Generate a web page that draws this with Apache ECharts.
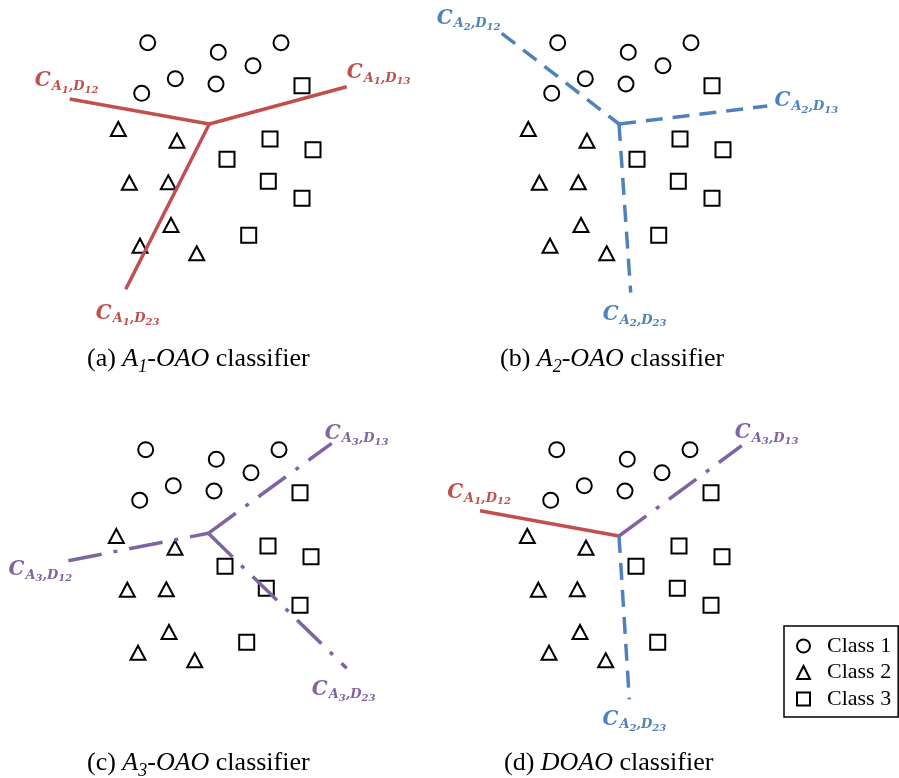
<!DOCTYPE html>
<html>
<head>
<meta charset="utf-8">
<script src="https://cdn.jsdelivr.net/npm/echarts/dist/echarts.min.js"></script>
<style>
  html, body { margin: 0; padding: 0; background: #fff; }
  #chart { width: 899px; height: 778px; }
</style>
</head>
<body>
<div id="chart"></div>
<script>
// ---- Sample points (the same set is shown in all four panels), panel units ----
const class1Points = [
  [127.7, 32.7], [198.3, 42.3], [261, 32.7], [233, 55.7],
  [155.3, 68.7], [196, 74], [121.7, 83.3]
];
const class2Points = [
  [98.3, 119], [157, 130.7], [109.3, 172.7], [148.3, 172.3],
  [151, 215], [120, 235.7], [176.7, 243.3]
];
const class3Points = [
  [282, 75.7], [250, 129], [293, 139.7], [207, 149.3],
  [248.3, 171.3], [282, 188.3], [228.7, 225.3]
];

// ---- Decision boundaries: hub and outer ends, per panel (a) A1, (b) A2, (c) A3, (d) DOAO ----
const hubPoints = [[189.3, 114], [189, 114], [190.3, 116.3], [190, 119]];
const endD12 = [[49.7, 89], [71.7, 23.3], [50.3, 143.7], [51, 93.7]];
const endD13 = [[326.7, 76.7], [337.3, 96], [313.7, 26.3], [312.7, 28.7]];
const endD23 = [[105.7, 279.3], [200.7, 282.7], [328.7, 251.3], [200.3, 282.3]];

// Classifier (A1, A2, A3) that supplies each boundary in each panel
const srcD12 = [1, 2, 3, 1];
const srcD13 = [1, 2, 3, 3];
const srcD23 = [1, 2, 3, 2];

const classNames = ['Class 1', 'Class 2', 'Class 3'];
const captionTags = ['(a) ', '(b) ', '(c) ', '(d) '];
const captionMethods = ['A1', 'A2', 'A3', 'DOAO'];

// ---- Layout ----
const PANEL_W = 380, PANEL_H = 330;
const panelOrigins = [[20, 10], [430, 10], [18, 417], [429, 417]];
const captionPos = [[87, 346], [500, 346], [87, 750], [504, 750]];
// label centre offsets (px) from each boundary's outer end
const offD12 = [[-3, -14], [-33, -11], [-28, 13], [-1, -14]];
const offD13 = [[32, -10], [39, -1], [25, -6], [25, -9]];
const offD23 = [[2, 28], [4, 26], [-3, 25], [5, 24]];
// draw the dash pattern starting from the outer end for these D12 lines
const d12FromEnd = [false, true, true, false];

const classifierStyle = {
  1: { color: '#C0504D', type: 'solid' },
  2: { color: '#4F81BD', type: [17, 10] },
  3: { color: '#8064A2', type: [34, 12, 4, 12] }
};

const symbolFor = ['circle', 'triangle', 'rect'];
const symbolSizeFor = [15, [15, 14], 15];
const pointSets = [class1Points, class2Points, class3Points];

const grids = [], xAxes = [], yAxes = [], series = [];

function labelRich(color) {
  const base = { fontFamily: 'DejaVu Serif', fontWeight: 'bold', fontStyle: 'italic', color: color, verticalAlign: 'bottom' };
  return {
    c: Object.assign({}, base, { fontSize: 20, lineHeight: 20, padding: [0, 1, 4, 0] }),
    m: Object.assign({}, base, { fontSize: 13, lineHeight: 13, padding: [0, 0, 2, 0] }),
    n: Object.assign({}, base, { fontSize: 10, lineHeight: 10 })
  };
}

function boundary(p, src, end, pair, offset, fromEnd) {
  const st = classifierStyle[src];
  const hub = hubPoints[p];
  series.push({
    type: 'line', xAxisIndex: p, yAxisIndex: p, z: 3, silent: true,
    symbol: 'none', clip: false,
    lineStyle: { color: st.color, width: 3.5, type: st.type, cap: 'butt', opacity: 1 },
    data: fromEnd ? [end, hub] : [hub, end]
  });
  series.push({
    type: 'scatter', xAxisIndex: p, yAxisIndex: p, z: 4, silent: true,
    symbolSize: 1, itemStyle: { color: 'rgba(0,0,0,0)', opacity: 1 },
    label: {
      show: true, position: 'inside', offset: offset,
      formatter: '{c|C}{m|A}{n|' + src + '}{m|,D}{n|' + pair + '}',
      rich: labelRich(st.color)
    },
    data: [end]
  });
}

for (let p = 0; p < 4; p++) {
  grids.push({ left: panelOrigins[p][0], top: panelOrigins[p][1], width: PANEL_W, height: PANEL_H });
  xAxes.push({ type: 'value', gridIndex: p, min: 0, max: PANEL_W, show: false });
  yAxes.push({ type: 'value', gridIndex: p, min: 0, max: PANEL_H, inverse: true, show: false });

  for (let k = 0; k < 3; k++) {
    series.push({
      name: classNames[k], type: 'scatter', xAxisIndex: p, yAxisIndex: p, z: 2,
      symbol: symbolFor[k], symbolSize: symbolSizeFor[k],
      itemStyle: { color: '#fff', borderColor: '#000', borderWidth: 2, opacity: 1 },
      emphasis: { disabled: true },
      data: pointSets[k]
    });
  }

  boundary(p, srcD12[p], endD12[p], '12', offD12[p], d12FromEnd[p]);
  boundary(p, srcD13[p], endD13[p], '13', offD13[p], false);
  boundary(p, srcD23[p], endD23[p], '23', offD23[p], false);
}

// ---- Captions ----
const capBase = { fontFamily: 'Liberation Serif', color: '#000', verticalAlign: 'bottom' };
const capRich = {
  n: Object.assign({}, capBase, { fontSize: 26, lineHeight: 26, padding: [0, 0, 4, 0] }),
  i: Object.assign({}, capBase, { fontSize: 26, lineHeight: 26, fontStyle: 'italic', padding: [0, 0, 4, 0] }),
  s: Object.assign({}, capBase, { fontSize: 18, lineHeight: 18, fontStyle: 'italic' })
};
const graphics = captionMethods.map(function (m, p) {
  let txt;
  if (m === 'DOAO') {
    txt = '{n|' + captionTags[p] + '}{i|DOAO}{n| classifier}';
  } else {
    txt = '{n|' + captionTags[p] + '}{i|' + m[0] + '}{s|' + m.slice(1) + '}{n|-}{i|OAO}{n| classifier}';
  }
  return {
    type: 'text', left: captionPos[p][0], top: captionPos[p][1], silent: true,
    style: { text: txt, rich: capRich, fill: '#000' }
  };
});

const chart = echarts.init(document.getElementById('chart'), null, { renderer: 'canvas' });
chart.setOption({
  animation: false,
  backgroundColor: '#fff',
  grid: grids,
  xAxis: xAxes,
  yAxis: yAxes,
  legend: {
    orient: 'vertical', left: 784, top: 626,
    padding: [9, 7, 7, 12], itemGap: 4.5,
    itemWidth: 13, itemHeight: 13,
    borderColor: '#000', borderWidth: 1.5,
    selectedMode: false,
    textStyle: { fontFamily: 'Liberation Serif', fontSize: 22, color: '#000', padding: [0, 0, 0, 12] },
    data: [
      { name: 'Class 1', icon: 'circle' },
      { name: 'Class 2', icon: 'triangle' },
      { name: 'Class 3', icon: 'rect' }
    ]
  },
  graphic: graphics,
  series: series
});
</script>
</body>
</html>
